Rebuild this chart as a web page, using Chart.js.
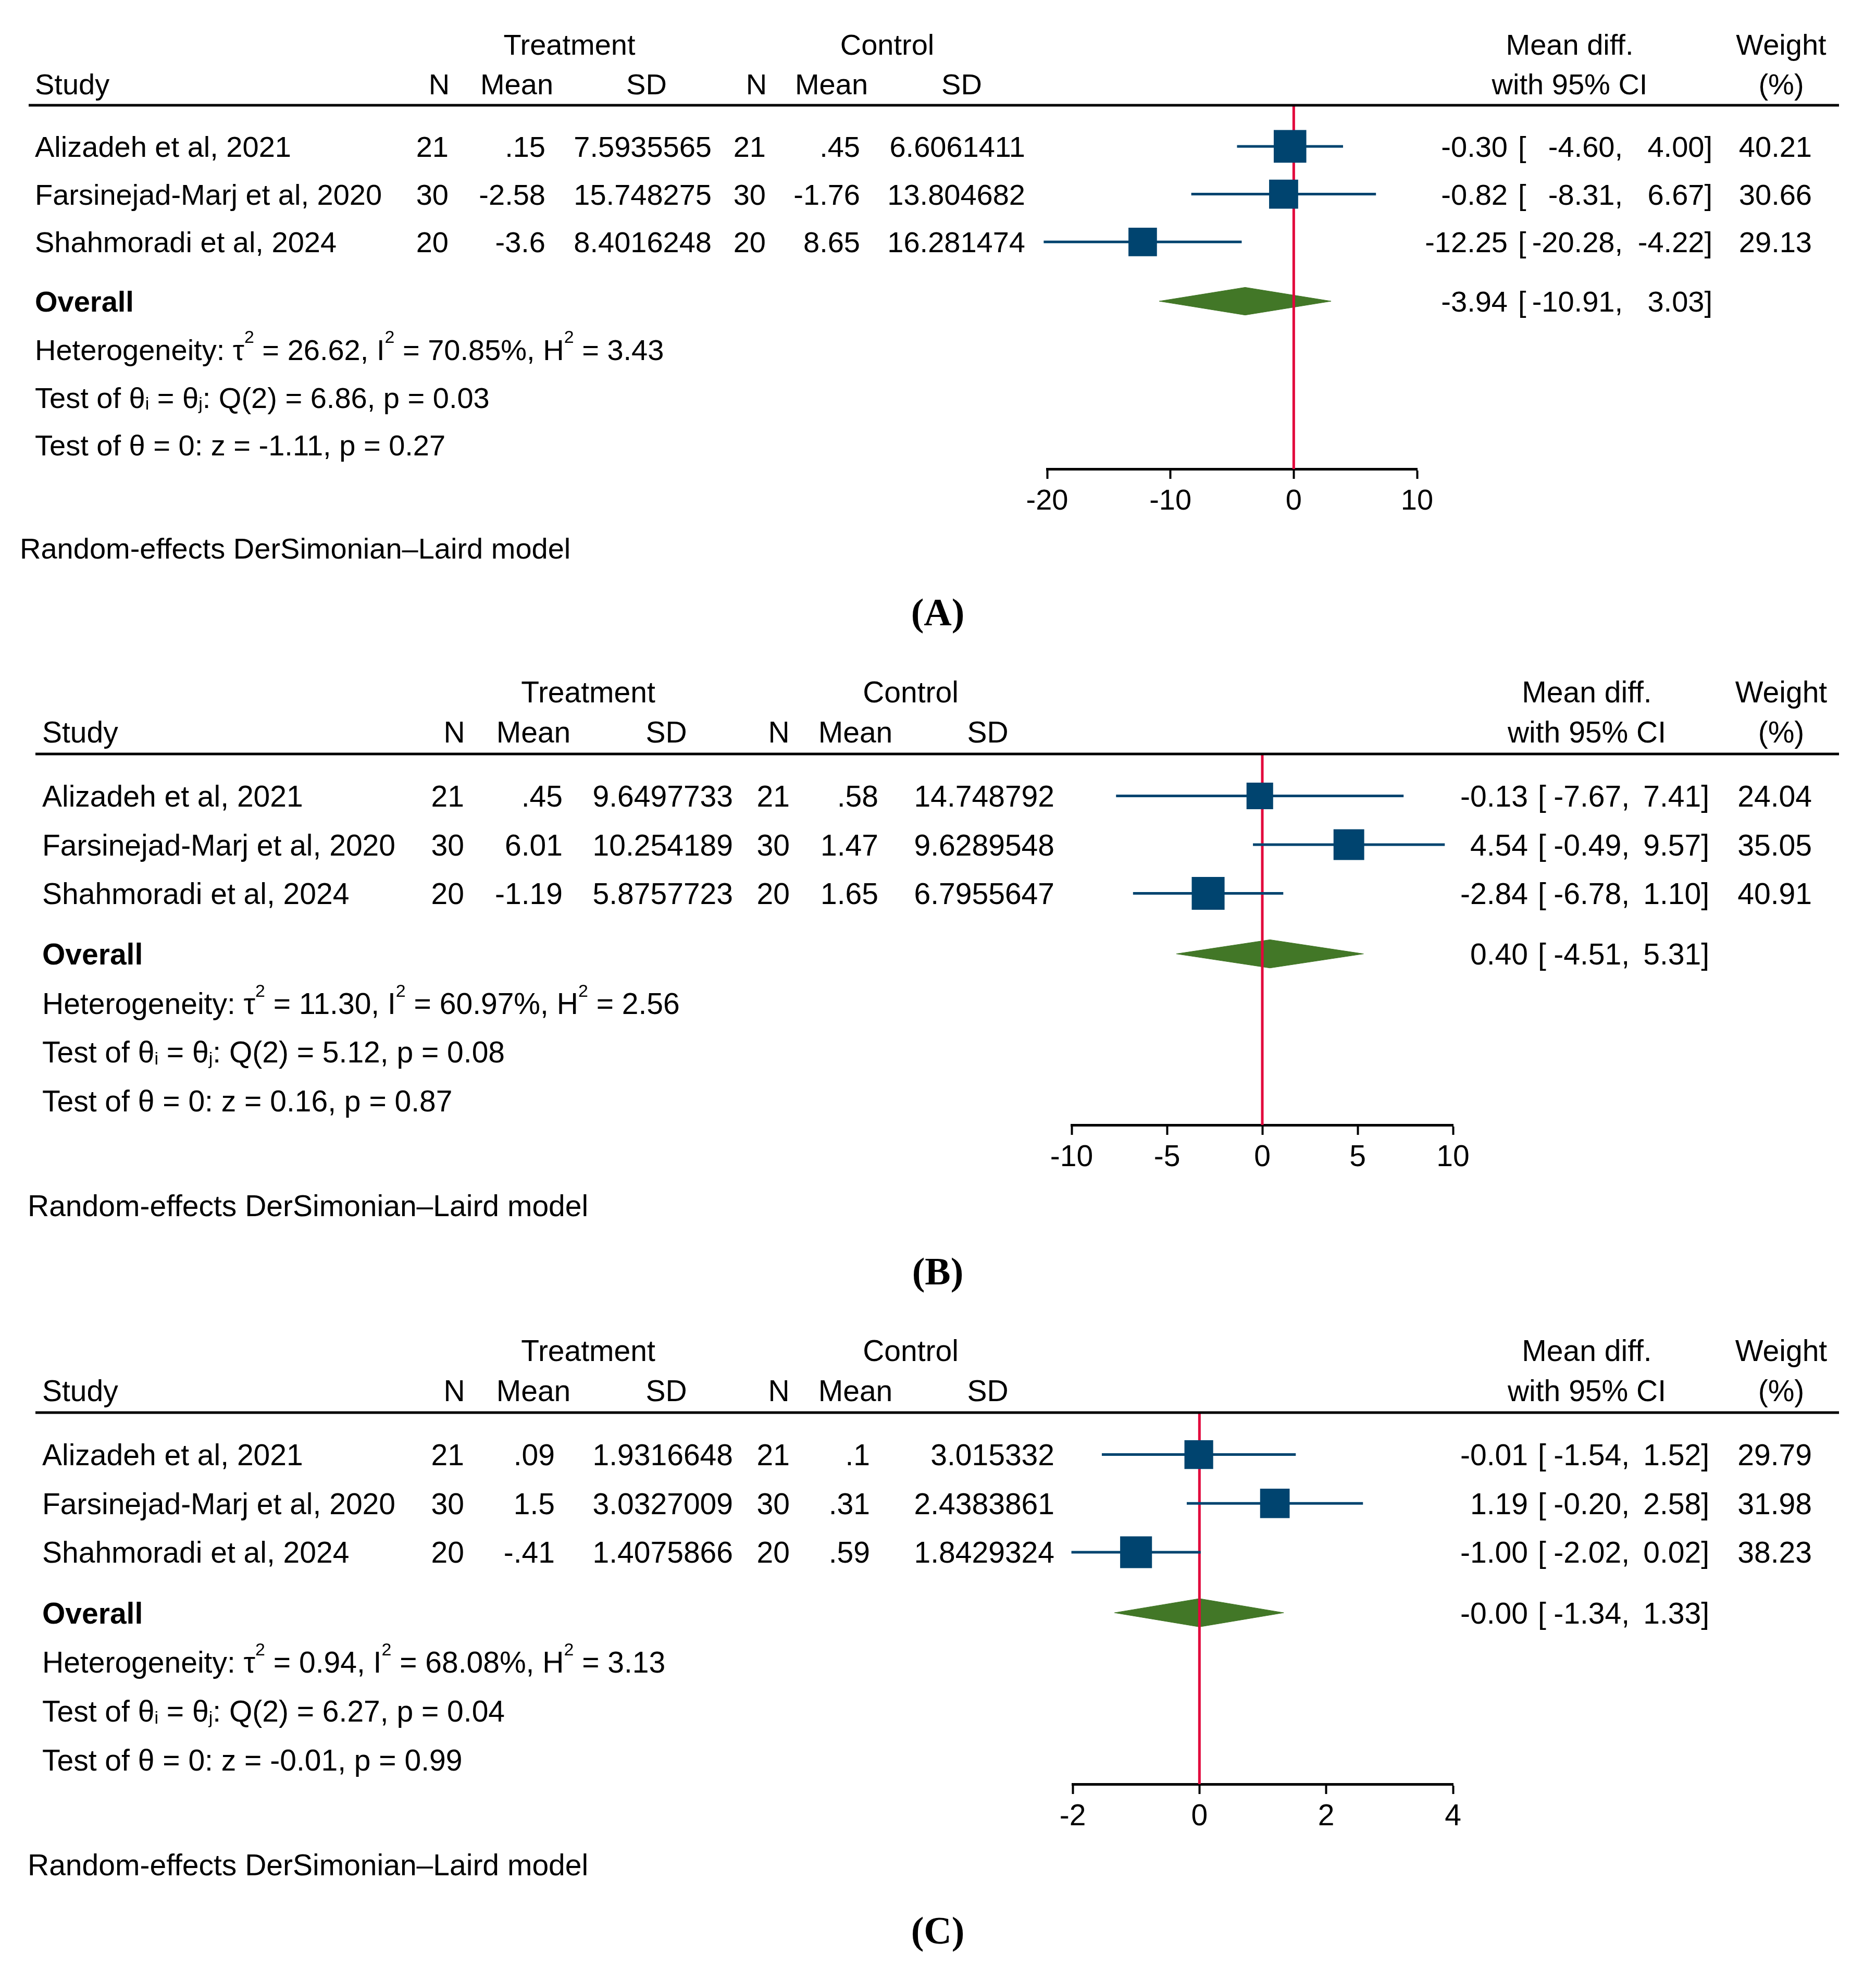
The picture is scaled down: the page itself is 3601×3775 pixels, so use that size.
<!DOCTYPE html>
<html>
<head>
<meta charset="utf-8">
<script src="https://cdn.jsdelivr.net/npm/chart.js@4.4.1/dist/chart.umd.min.js"></script>
<style>
  html, body { margin: 0; padding: 0; background: #fff; overflow: hidden; }
  canvas { position: absolute; left: 0; top: 0; }
</style>
</head>
<body>
<canvas id="forestA" width="3601" height="3775"></canvas>
<canvas id="forestB" width="3601" height="3775"></canvas>
<canvas id="forestC" width="3601" height="3775"></canvas>
<script>
// studies (same three in every panel)
const studies = ['Alizadeh et al, 2021', 'Farsinejad-Marj et al, 2020', 'Shahmoradi et al, 2024'];

// panel (A)
const aTrtN = [21, 30, 20];
const aTrtMean = [0.15, -2.58, -3.6];
const aTrtSD = [7.5935565, 15.748275, 8.4016248];
const aCtlN = [21, 30, 20];
const aCtlMean = [0.45, -1.76, 8.65];
const aCtlSD = [6.6061411, 13.804682, 16.281474];
const aMD = [-0.30, -0.82, -12.25];
const aLow = [-4.60, -8.31, -20.28];
const aHigh = [4.00, 6.67, -4.22];
const aWeight = [40.21, 30.66, 29.13];
const aOverall = [-3.94, -10.91, 3.03];   // est, low, high
const aHet = [26.62, 70.85, 3.43];        // tau2, I2, H2
const aQ = [2, 6.86, 0.03];               // df, Q, p
const aZ = [-1.11, 0.27];                 // z, p
const aTicks = [-20, -10, 0, 10];

// panel (B)
const bTrtN = [21, 30, 20];
const bTrtMean = [0.45, 6.01, -1.19];
const bTrtSD = [9.6497733, 10.254189, 5.8757723];
const bCtlN = [21, 30, 20];
const bCtlMean = [0.58, 1.47, 1.65];
const bCtlSD = [14.748792, 9.6289548, 6.7955647];
const bMD = [-0.13, 4.54, -2.84];
const bLow = [-7.67, -0.49, -6.78];
const bHigh = [7.41, 9.57, 1.10];
const bWeight = [24.04, 35.05, 40.91];
const bOverall = [0.40, -4.51, 5.31];
const bHet = [11.30, 60.97, 2.56];
const bQ = [2, 5.12, 0.08];
const bZ = [0.16, 0.87];
const bTicks = [-10, -5, 0, 5, 10];

// panel (C)
const cTrtN = [21, 30, 20];
const cTrtMean = [0.09, 1.5, -0.41];
const cTrtSD = [1.9316648, 3.0327009, 1.4075866];
const cCtlN = [21, 30, 20];
const cCtlMean = [0.1, 0.31, 0.59];
const cCtlSD = [3.015332, 2.4383861, 1.8429324];
const cMD = [-0.01, 1.19, -1.00];
const cLow = [-1.54, -0.20, -2.02];
const cHigh = [1.52, 2.58, 0.02];
const cWeight = [29.79, 31.98, 38.23];
const cOverall = [-0.00, -1.34, 1.33];
const cHet = [0.94, 68.08, 3.13];
const cQ = [2, 6.27, 0.04];
const cZ = [-0.01, 0.99];
const cTicks = [-2, 0, 2, 4];

const FONT = '"Liberation Sans", Arial, Helvetica, sans-serif';
const BLUE = '#00446f';
const RED = '#e2063c';
const GREEN = '#427727';

// stata style: .15 instead of 0.15
function fmtRaw(v) {
    return String(v).replace(/^(-?)0\./, '$1.');
}
function fmt2(v) {
    return (Object.is(v, -0) ? '-' : '') + v.toFixed(2);
}

// text with super/subscripts
function richText(ctx, parts, x, y, fs) {
    const small = Math.round(fs * 0.6);
    parts.forEach(p => {
        let dy = 0;
        if (p[1] === 'sup') { ctx.font = small + 'px ' + FONT; dy = -fs * 0.58; }
        else if (p[1] === 'sub') { ctx.font = small + 'px ' + FONT; dy = fs * 0.07; }
        else ctx.font = fs + 'px ' + FONT;
        ctx.textAlign = 'left';
        ctx.fillText(p[0], x, y + dy);
        x += ctx.measureText(p[0]).width;
    });
}

function tablePlugin(p) {
    return {
        id: 'table' + p.tag,
        afterDraw(chart) {
            const ctx = chart.ctx;
            const ys = chart.scales.y;
            const area = chart.chartArea;
            const fs = p.fs;
            const base = r => ys.getPixelForValue(r) + fs * 0.36;
            const txt = (s, x, r, align) => { ctx.textAlign = align; ctx.fillText(s, x, base(r)); };

            ctx.save();
            // header rule
            ctx.strokeStyle = '#000';
            ctx.lineWidth = 5;
            ctx.beginPath();
            ctx.moveTo(p.ruleLeft, area.top);
            ctx.lineTo(3530, area.top);
            ctx.stroke();

            ctx.fillStyle = '#000';
            ctx.textBaseline = 'alphabetic';
            ctx.font = fs + 'px ' + FONT;

            // column headers
            txt('Treatment', p.trtX, -1.14, 'center');
            txt('Control', p.ctlX, -1.14, 'center');
            txt('Mean diff.', p.mdX, -1.14, 'center');
            txt('Weight', p.wX, -1.14, 'center');
            txt('Study', p.studyX, -0.31, 'left');
            ['N', 'Mean', 'SD', 'N', 'Mean', 'SD'].forEach((h, k) => txt(h, p.hdr[k], -0.31, 'center'));
            txt('with 95% CI', p.mdX, -0.31, 'center');
            txt('(%)', p.wX, -0.31, 'center');

            // study rows
            studies.forEach((s, i) => {
                const r = i + 1;
                txt(s, p.studyX, r, 'left');
                const vals = [p.trtN[i], p.trtMean[i], p.trtSD[i], p.ctlN[i], p.ctlMean[i], p.ctlSD[i]];
                vals.forEach((v, k) => txt(fmtRaw(v), p.col[k], r, 'right'));
                txt(fmt2(p.md[i]), p.estR, r, 'right');
                txt('[', p.brL, r, 'left');
                txt(fmt2(p.low[i]) + ',', p.lowR, r, 'right');
                txt(fmt2(p.high[i]) + ']', p.highR, r, 'right');
                txt(p.weight[i].toFixed(2), p.wR, r, 'right');
            });

            // overall
            ctx.font = 'bold ' + fs + 'px ' + FONT;
            txt('Overall', p.studyX, 4.24, 'left');
            ctx.font = fs + 'px ' + FONT;
            txt(fmt2(p.overall[0]), p.estR, 4.24, 'right');
            txt('[', p.brL, 4.24, 'left');
            txt(fmt2(p.overall[1]) + ',', p.lowR, 4.24, 'right');
            txt(fmt2(p.overall[2]) + ']', p.highR, 4.24, 'right');

            richText(ctx, [['Heterogeneity: \u03c4', ''], ['2', 'sup'], [' = ' + fmt2(p.het[0]) + ', I', ''], ['2', 'sup'],
                [' = ' + fmt2(p.het[1]) + '%, H', ''], ['2', 'sup'], [' = ' + fmt2(p.het[2]), '']], p.studyX, base(5.25), fs);
            richText(ctx, [['Test of \u03b8', ''], ['i', 'sub'], [' = \u03b8', ''], ['j', 'sub'],
                [': Q(' + p.q[0] + ') = ' + fmt2(p.q[1]) + ', p = ' + fmt2(p.q[2]), '']], p.studyX, base(6.25), fs);
            richText(ctx, [['Test of \u03b8 = 0: z = ' + fmt2(p.z[0]) + ', p = ' + fmt2(p.z[1]), '']], p.studyX, base(7.25), fs);

            ctx.font = fs + 'px ' + FONT;
            txt('Random-effects DerSimonian\u2013Laird model', p.noteX, 9.4, 'left');

            // panel letter
            ctx.font = 'bold 74px "Liberation Serif", "Times New Roman", serif';
            ctx.textAlign = 'center';
            ctx.fillText('(' + p.tag + ')', 1800, ys.getPixelForValue(10.75) + 25);
            ctx.restore();
        }
    };
}

function forestChart(id, p) {
    const ctx = document.getElementById(id).getContext('2d');
    const datasets = [];

    // boxes, size follows weight
    datasets.push({
        type: 'scatter',
        data: p.md.map((v, i) => ({ x: v, y: i + 1 })),
        pointStyle: 'rect',
        pointRadius: p.weight.map(w => (34 + 0.71 * w) / Math.SQRT2),
        backgroundColor: BLUE,
        borderWidth: 0,
        clip: false
    });
    // confidence intervals
    p.md.forEach((v, i) => {
        datasets.push({
            type: 'line',
            data: [{ x: p.low[i], y: i + 1 }, { x: p.high[i], y: i + 1 }],
            borderColor: BLUE,
            borderWidth: 5,
            pointRadius: 0,
            clip: false
        });
    });
    // line of no effect
    datasets.push({
        type: 'line',
        data: [{ x: 0, y: 0.14 }, { x: 0, y: 7.75 }],
        borderColor: RED,
        borderWidth: 5,
        pointRadius: 0,
        clip: false
    });
    // overall diamond
    const oy = 4.24, h = 0.29;
    datasets.push({
        type: 'line',
        data: [
            { x: p.overall[1], y: oy },
            { x: p.overall[0], y: oy - h },
            { x: p.overall[2], y: oy },
            { x: p.overall[0], y: oy + h },
            { x: p.overall[1], y: oy }
        ],
        borderColor: GREEN,
        borderWidth: 1,
        backgroundColor: GREEN,
        fill: 'shape',
        pointRadius: 0,
        clip: false
    });

    new Chart(ctx, {
        type: 'scatter',
        data: { datasets: datasets },
        options: {
            responsive: false,
            animation: false,
            devicePixelRatio: 1,
            events: [],
            layout: {
                padding: { left: p.left, right: 3601 - p.right, top: p.top, bottom: 3775 - p.bottom - 120 }
            },
            plugins: { legend: { display: false }, tooltip: { enabled: false } },
            scales: {
                x: {
                    type: 'linear',
                    min: p.ticks[0],
                    max: p.ticks[p.ticks.length - 1],
                    afterBuildTicks: s => { s.ticks = p.ticks.map(v => ({ value: v })); },
                    afterFit: s => { s.height = 120; },
                    ticks: {
                        font: { family: FONT, size: p.fs },
                        color: '#000',
                        padding: 10,
                        maxRotation: 0,
                        callback: v => String(v)
                    },
                    grid: { display: true, drawOnChartArea: false, drawTicks: true, tickLength: 19, tickWidth: 4, tickColor: '#000' },
                    border: { display: true, color: '#000', width: 5 }
                },
                y: { type: 'linear', display: false, reverse: true, min: 0.14, max: 7.75 }
            }
        },
        plugins: [tablePlugin(p)]
    });
}

forestChart('forestA', {
    tag: 'A', fs: 56, left: 2010, right: 2720, top: 202, bottom: 900, ticks: aTicks,
    trtN: aTrtN, trtMean: aTrtMean, trtSD: aTrtSD, ctlN: aCtlN, ctlMean: aCtlMean, ctlSD: aCtlSD,
    md: aMD, low: aLow, high: aHigh, weight: aWeight, overall: aOverall, het: aHet, q: aQ, z: aZ,
    ruleLeft: 55, studyX: 67, noteX: 38, trtX: 1093, ctlX: 1703, mdX: 3013, wX: 3419,
    hdr: [843, 992, 1241, 1452, 1596, 1846],
    col: [861, 1047, 1366, 1470, 1651, 1968],
    estR: 2894, brL: 2914, lowR: 3115, highR: 3287, wR: 3478
});

forestChart('forestB', {
    tag: 'B', fs: 57, left: 2057, right: 2789, top: 1447, bottom: 2159, ticks: bTicks,
    trtN: bTrtN, trtMean: bTrtMean, trtSD: bTrtSD, ctlN: bCtlN, ctlMean: bCtlMean, ctlSD: bCtlSD,
    md: bMD, low: bLow, high: bHigh, weight: bWeight, overall: bOverall, het: bHet, q: bQ, z: bZ,
    ruleLeft: 68, studyX: 81, noteX: 53, trtX: 1129, ctlX: 1748, mdX: 3046, wX: 3419,
    hdr: [872, 1024, 1279, 1495, 1642, 1896],
    col: [891, 1080, 1407, 1516, 1686, 2024],
    estR: 2933, brL: 2952, lowR: 3128, highR: 3281, wR: 3478
});

forestChart('forestC', {
    tag: 'C', fs: 57, left: 2059, right: 2789, top: 2711, bottom: 3424, ticks: cTicks,
    trtN: cTrtN, trtMean: cTrtMean, trtSD: cTrtSD, ctlN: cCtlN, ctlMean: cCtlMean, ctlSD: cCtlSD,
    md: cMD, low: cLow, high: cHigh, weight: cWeight, overall: cOverall, het: cHet, q: cQ, z: cZ,
    ruleLeft: 68, studyX: 81, noteX: 53, trtX: 1129, ctlX: 1748, mdX: 3046, wX: 3419,
    hdr: [872, 1024, 1279, 1495, 1642, 1896],
    col: [891, 1065, 1407, 1516, 1670, 2024],
    estR: 2933, brL: 2952, lowR: 3128, highR: 3281, wR: 3478
});
</script>
</body>
</html>
